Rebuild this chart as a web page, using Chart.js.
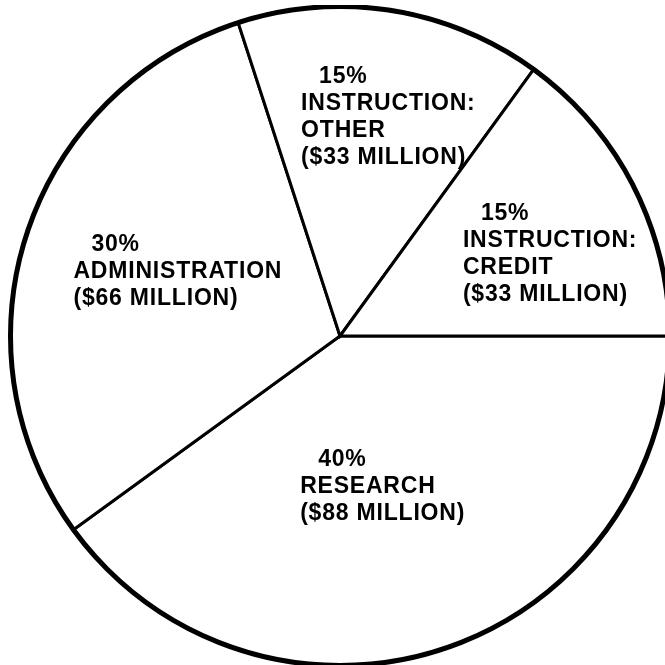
<!DOCTYPE html>
<html>
<head>
<meta charset="utf-8">
<script src="https://cdn.jsdelivr.net/npm/chart.js@4/dist/chart.umd.min.js"></script>
<style>
  html, body { margin: 0; padding: 0; background: #fff; overflow: hidden; width: 665px; height: 665px; }
  #pie { position: absolute; left: 0; top: 5px; }
</style>
</head>
<body>
<canvas id="pie" width="680" height="662"></canvas>
<script>
// slices, clockwise from 3 o'clock
const names = [['RESEARCH'], ['ADMINISTRATION'], ['INSTRUCTION:', 'OTHER'], ['INSTRUCTION:', 'CREDIT']];
const shares = [40, 30, 15, 15];
const millions = [88, 66, 33, 33];

// label block anchor (left edge, first baseline) as a fraction of the radius from the centre
const labelAt = [[-0.121, 0.394], [-0.809, -0.258], [-0.118, -0.767], [0.373, -0.352]];

const pieLabels = {
  id: 'pieLabels',
  afterDatasetsDraw(chart) {
    const { ctx } = chart;
    const arcs = chart.getDatasetMeta(0).data;
    const cx = arcs[0].x, cy = arcs[0].y, r = arcs[0].outerRadius;

    // heavier outer rim
    ctx.save();
    ctx.beginPath();
    ctx.arc(cx, cy, r, 0, Math.PI * 2);
    ctx.lineWidth = 5;
    ctx.strokeStyle = '#000';
    ctx.stroke();

    ctx.fillStyle = '#000';
    ctx.font = "bold 23px 'Liberation Sans', Arial, sans-serif";
    ctx.letterSpacing = '0.8px';
    ctx.textAlign = 'left';
    ctx.textBaseline = 'alphabetic';
    shares.forEach((s, i) => {
      const x = cx + labelAt[i][0] * r;
      let y = cy + labelAt[i][1] * r;
      const lines = [s + '%', ...names[i], '($' + millions[i] + ' MILLION)'];
      lines.forEach((t, j) => {
        ctx.fillText(t, j === 0 ? x + 18 : x, y);
        y += 27;
      });
    });
    ctx.restore();
  }
};

new Chart(document.getElementById('pie'), {
  type: 'pie',
  data: {
    labels: names.map(n => n.join(' ')),
    datasets: [{
      data: shares,
      backgroundColor: '#fff',
      borderColor: '#000',
      borderWidth: 3,
      borderJoinStyle: 'miter'
    }]
  },
  options: {
    responsive: false,
    animation: false,
    rotation: 90,
    layout: { padding: 0 },
    plugins: { legend: { display: false }, tooltip: { enabled: false } }
  },
  plugins: [pieLabels]
});
</script>
</body>
</html>
